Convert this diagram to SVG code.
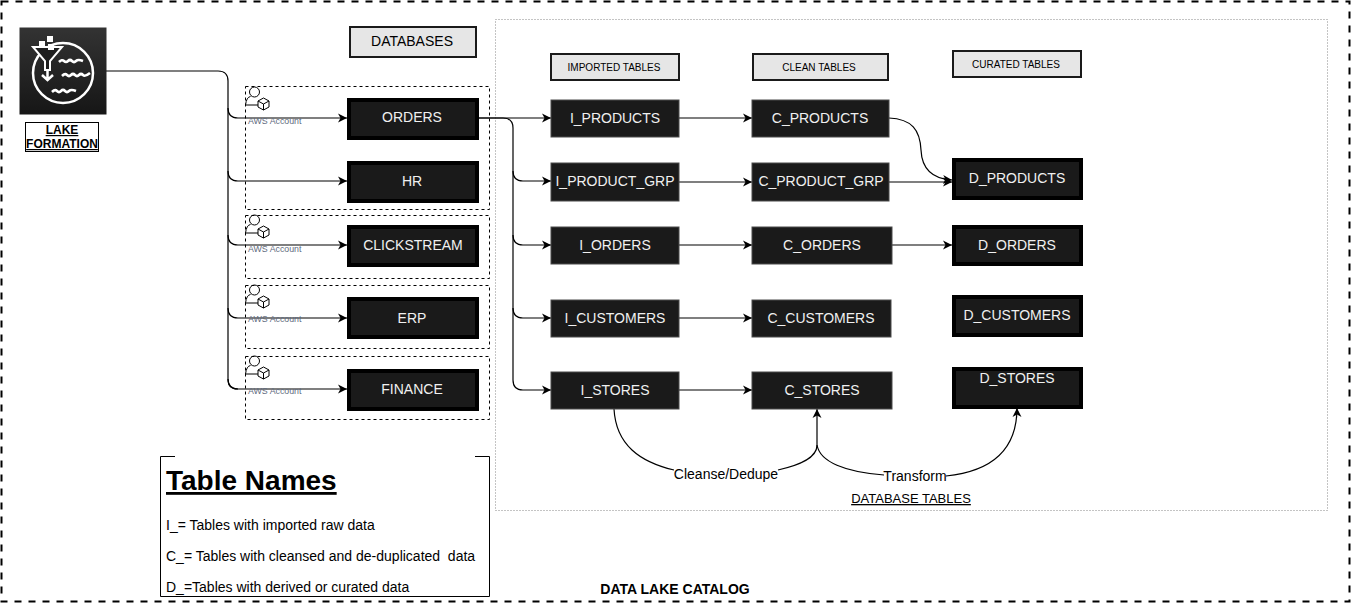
<svg xmlns="http://www.w3.org/2000/svg" width="1351" height="603" viewBox="0 0 1351 603">
<defs>
<marker id="arr" markerWidth="10" markerHeight="10" refX="9" refY="5" orient="auto" markerUnits="userSpaceOnUse"><path d="M0 0.5L9 5L0 9.500L2.500 5Z" fill="#000"/></marker>
<linearGradient id="lf" x1="0" y1="0" x2="0" y2="1"><stop offset="0" stop-color="#333"/><stop offset="1" stop-color="#161616"/></linearGradient>
</defs>
<style>
text{font-family:"Liberation Sans",Arial,sans-serif;text-anchor:middle;fill:#000}
.n{fill:#1a1a1a;stroke:#4a4a4a;stroke-width:1}
.nk{fill:#1a1a1a;stroke:#000;stroke-width:4}
.t{fill:#f0f0f0;font-size:14px}
.h{fill:#e6e6e6;stroke:#1a1a1a;stroke-width:2}
.acct{fill:none;stroke:#000;stroke-width:1;stroke-dasharray:3 3}
.c{fill:none;stroke:#000;stroke-width:1.200}
.ca{fill:none;stroke:#000;stroke-width:1.200;marker-end:url(#arr)}
.aws{font-size:8.800px;fill:#5f6b80;text-anchor:start}
.ic{fill:none;stroke:#000;stroke-width:1}
.wv{fill:none;stroke:#fff;stroke-width:2.600}
.l{font-size:14px;text-anchor:start;white-space:pre}
</style>
<rect x="1.500" y="1.500" width="1348" height="600" fill="none" stroke="#000" stroke-width="2" stroke-dasharray="7 7"/>
<rect x="495.500" y="19.500" width="832" height="491" fill="none" stroke="#888" stroke-width="1" stroke-dasharray="1 2"/>
<g id="accounts">
<rect class="acct" x="245.500" y="86.500" width="244" height="123"/>
<rect class="acct" x="245.500" y="215.500" width="244" height="63"/>
<rect class="acct" x="245.500" y="285.500" width="244" height="63"/>
<rect class="acct" x="245.500" y="356.500" width="244" height="63"/>
</g>
<g id="connectors">
<path class="c" d="M106 71H218Q228 71 228 81V379Q228 389 238 389"/>
<path class="ca" d="M228 108Q228 118 238 118H347"/>
<path class="ca" d="M228 171Q228 181 238 181H347"/>
<path class="ca" d="M228 235Q228 245 238 245H347"/>
<path class="ca" d="M228 308Q228 318 238 318H347"/>
<path class="ca" d="M228 379Q228 389 238 389H347"/>
<path class="ca" d="M478 118H551"/>
<path class="c" d="M478 118H503Q513 118 513 128V380"/>
<path class="ca" d="M513 171Q513 181 523 181H551"/>
<path class="ca" d="M513 235Q513 245 523 245H551"/>
<path class="ca" d="M513 308Q513 318 523 318H551"/>
<path class="ca" d="M513 380Q513 390 523 390H551"/>
<path class="ca" d="M679 118H752"/>
<path class="ca" d="M679 182H752"/>
<path class="ca" d="M679 245H752"/>
<path class="ca" d="M679 318H752"/>
<path class="ca" d="M679 390H752"/>
<path class="ca" d="M889 118C912 119 920 130 921 150C922 172 935 179 952 180"/>
<path class="ca" d="M889 182H952"/>
<path class="ca" d="M892 245H952"/>
<path class="c" d="M614 409C616 445 640 462 674 470"/>
<path class="ca" d="M778 470C800 465 817 458 817 445V409"/>
<path class="c" d="M817 445C820 462 845 472 884 475"/>
<path class="ca" d="M946 476C985 472 1017 455 1017 408"/>
</g>
<g id="lake-formation">
<rect x="19.500" y="27.500" width="87" height="87" fill="url(#lf)"/>
<circle cx="63" cy="73" r="30" fill="none" stroke="#fff" stroke-width="2.500"/>
<path d="M33 47H62L50 61V70H45V61Z" fill="#1f1f1f" stroke="#fff" stroke-width="2"/>
<path d="M47.500 70V78M42 75L47.500 80L53 75" fill="none" stroke="#fff" stroke-width="2.500"/>
<rect x="39" y="41" width="6" height="6" fill="#fff"/><rect x="47" y="36" width="6" height="6" fill="#fff"/><rect x="48" y="44" width="6" height="6" fill="#fff"/>
<path class="wv" d="M59 62q3-3 5-1t4 0t4 0t4 0t7 0M62 76q3-3 5-1t4 0t4 0t4 0t4 0t7-2M52 92q3-3 5-1t4 0t4 0t4 0t7 0"/>
<rect x="25.500" y="122.500" width="73" height="29" fill="#fff" stroke="#000" stroke-width="1"/>
<text x="62" y="134" font-size="12" font-weight="700" text-decoration="underline">LAKE</text>
<text x="62" y="148" font-size="12" font-weight="700" text-decoration="underline">FORMATION</text>
</g>
<g id="account-icons">
<g id="acct1"><circle class="ic" cx="254.500" cy="92" r="5"/><path class="ic" d="M245.500 105q1-8 5-8.500M246 105H258"/><path class="ic" d="M263.500 98l5.500 3v6l-5.500 3l-5.500-3v-6zM258 101l5.500 3l5.500-3M263.500 104v6"/><text class="aws" x="248" y="124">AWS Account</text></g>
<g id="acct2"><circle class="ic" cx="254.500" cy="220" r="5"/><path class="ic" d="M245.500 233q1-8 5-8.500M246 233H258"/><path class="ic" d="M263.500 226l5.500 3v6l-5.500 3l-5.500-3v-6zM258 229l5.500 3l5.500-3M263.500 232v6"/><text class="aws" x="248" y="252">AWS Account</text></g>
<g id="acct3"><circle class="ic" cx="254.500" cy="290" r="5"/><path class="ic" d="M245.500 303q1-8 5-8.500M246 303H258"/><path class="ic" d="M263.500 296l5.500 3v6l-5.500 3l-5.500-3v-6zM258 299l5.500 3l5.500-3M263.500 302v6"/><text class="aws" x="248" y="322">AWS Account</text></g>
<g id="acct4"><circle class="ic" cx="254.500" cy="361" r="5"/><path class="ic" d="M245.500 374q1-8 5-8.500M246 374H258"/><path class="ic" d="M263.500 367l5.500 3v6l-5.500 3l-5.500-3v-6zM258 370l5.500 3l5.500-3M263.500 373v6"/><text class="aws" x="248" y="394">AWS Account</text></g>
</g>
<g id="db-header"><rect class="h" x="350" y="27" width="126" height="30"/><text x="412" y="46" font-size="14">DATABASES</text></g>
<g id="orders"><rect class="nk" x="349" y="100" width="128" height="38"/><text class="t" x="412" y="122">ORDERS</text></g>
<g id="hr"><rect class="nk" x="349" y="163" width="128" height="38"/><text class="t" x="412" y="186">HR</text></g>
<g id="clickstream"><rect class="nk" x="349" y="227" width="128" height="38"/><text class="t" x="413" y="250">CLICKSTREAM</text></g>
<g id="erp"><rect class="nk" x="349" y="299" width="128" height="38"/><text class="t" x="412" y="323">ERP</text></g>
<g id="finance"><rect class="nk" x="349" y="371" width="128" height="38"/><text class="t" x="412" y="394">FINANCE</text></g>
<g id="imported-header"><rect class="h" x="551" y="54" width="128" height="26"/><text x="614" y="71" font-size="10">IMPORTED TABLES</text></g>
<g id="clean-header"><rect class="h" x="753" y="54" width="135" height="26"/><text x="819" y="71" font-size="10">CLEAN TABLES</text></g>
<g id="curated-header"><rect class="h" x="953" y="51" width="128" height="26"/><text x="1016" y="68" font-size="10">CURATED TABLES</text></g>
<g id="i-products"><rect class="n" x="551" y="100" width="128" height="37"/><text class="t" x="615" y="123">I_PRODUCTS</text></g>
<g id="i-product-grp"><rect class="n" x="551" y="163" width="128" height="38"/><text class="t" x="615" y="186">I_PRODUCT_GRP</text></g>
<g id="i-orders"><rect class="n" x="551" y="227" width="128" height="37"/><text class="t" x="615" y="250">I_ORDERS</text></g>
<g id="i-customers"><rect class="n" x="551" y="300" width="128" height="37"/><text class="t" x="615" y="323">I_CUSTOMERS</text></g>
<g id="i-stores"><rect class="n" x="551" y="372" width="128" height="37"/><text class="t" x="615" y="395">I_STORES</text></g>
<g id="c-products"><rect class="n" x="752" y="100" width="137" height="37"/><text class="t" x="820" y="123">C_PRODUCTS</text></g>
<g id="c-product-grp"><rect class="n" x="752" y="163" width="137" height="38"/><text class="t" x="821" y="186">C_PRODUCT_GRP</text></g>
<g id="c-orders"><rect class="n" x="752" y="227" width="140" height="37"/><text class="t" x="822" y="250">C_ORDERS</text></g>
<g id="c-customers"><rect class="n" x="752" y="300" width="139" height="37"/><text class="t" x="821" y="323">C_CUSTOMERS</text></g>
<g id="c-stores"><rect class="n" x="752" y="372" width="140" height="37"/><text class="t" x="822" y="395">C_STORES</text></g>
<g id="d-products"><rect class="nk" x="954" y="160" width="127" height="38"/><text class="t" x="1017" y="183">D_PRODUCTS</text></g>
<g id="d-orders"><rect class="nk" x="954" y="227" width="127" height="37"/><text class="t" x="1017" y="250">D_ORDERS</text></g>
<g id="d-customers"><rect class="nk" x="954" y="297" width="127" height="38"/><text class="t" x="1017" y="320">D_CUSTOMERS</text></g>
<g id="d-stores"><rect class="nk" x="954" y="369" width="127" height="38"/><text class="t" x="1017" y="383">D_STORES</text></g>
<text x="726" y="479" font-size="14">Cleanse/Dedupe</text>
<text x="915" y="481" font-size="14">Transform</text>
<text x="911" y="503" font-size="13" text-decoration="underline">DATABASE TABLES</text>
<g id="legend">
<path d="M175 456.500H160.500V596.500H489.500V456.500H475" fill="#fff" stroke="#000" stroke-width="1"/>
<text x="166" y="490" font-size="28" font-weight="700" text-decoration="underline" style="text-anchor:start">Table Names</text>
<text class="l" x="166" y="530">I_= Tables with imported raw data</text>
<text class="l" x="166" y="561">C_= Tables with cleansed and de-duplicated  data</text>
<text class="l" x="166" y="592">D_=Tables with derived or curated data</text>
</g>
<text x="675" y="594" font-size="14" font-weight="700">DATA LAKE CATALOG</text>
</svg>
